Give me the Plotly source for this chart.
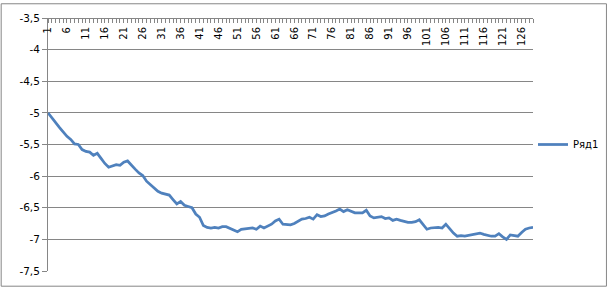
import plotly.graph_objects as go

series_name = "Ряд1"
values = [
    -5.00, -5.08, -5.16, -5.23, -5.30, -5.37, -5.42, -5.49, -5.50, -5.58,
    -5.61, -5.62, -5.67, -5.64, -5.72, -5.80, -5.86, -5.84, -5.82, -5.83,
    -5.78, -5.76, -5.83, -5.89, -5.95, -5.99, -6.08, -6.13, -6.18, -6.24,
    -6.27, -6.28, -6.30, -6.37, -6.44, -6.40, -6.46, -6.48, -6.50, -6.60,
    -6.65, -6.78, -6.81, -6.82, -6.81, -6.82, -6.80, -6.80, -6.83, -6.86,
    -6.88, -6.84, -6.83, -6.82, -6.82, -6.84, -6.79, -6.82, -6.79, -6.76,
    -6.71, -6.68, -6.76, -6.77, -6.77, -6.75, -6.71, -6.68, -6.67, -6.65,
    -6.68, -6.61, -6.64, -6.63, -6.60, -6.58, -6.55, -6.52, -6.56, -6.53,
    -6.55, -6.58, -6.58, -6.58, -6.54, -6.63, -6.66, -6.65, -6.64, -6.67,
    -6.66, -6.70, -6.68, -6.70, -6.72, -6.73, -6.73, -6.72, -6.69, -6.77,
    -6.84, -6.82, -6.81, -6.81, -6.82, -6.76, -6.83, -6.90, -6.95, -6.94,
    -6.95, -6.94, -6.92, -6.91, -6.90, -6.92, -6.94, -6.95, -6.95, -6.91,
    -6.96, -7.00, -6.93, -6.94, -6.95, -6.89, -6.84, -6.82, -6.81,
]
categories = list(range(1, len(values) + 1))
x_tick_vals = list(range(1, len(values) + 1, 5))
x_tick_text = [str(v) for v in x_tick_vals]
y_tick_vals = [-3.5, -4, -4.5, -5, -5.5, -6, -6.5, -7, -7.5]
y_tick_text = ["-3,5", "-4", "-4,5", "-5", "-5,5", "-6", "-6,5", "-7", "-7,5"]

W, H = 616, 289
ML, MR, MT, MB = 48, 76, 15, 16
GRID = "#868686"
FONT = "DejaVu Sans"

fig = go.Figure()
fig.add_trace(go.Scatter(
    x=categories, y=values, mode="lines", name=series_name,
    line=dict(color="#4F81BD", width=2.75),
    showlegend=True,
))

pw = W - ML - MR
ph = H - MT - MB
fig.add_shape(type="rect", xref="paper", yref="paper",
              x0=(0.5 - ML) / pw, x1=(W - 1.5 - ML) / pw,
              y0=-(MB - 0.5) / ph, y1=1 + (MT - 0.5) / ph,
              line=dict(color=GRID, width=1), layer="above")

fig.update_layout(
    width=W, height=H,
    margin=dict(l=ML, r=MR, t=MT, b=MB),
    paper_bgcolor="white", plot_bgcolor="white",
    font=dict(family=FONT, size=10, color="black"),
    showlegend=True,
    legend=dict(x=1.0, xanchor="left", y=0.5, yanchor="middle",
                font=dict(family=FONT, size=10), itemwidth=30,
                bgcolor="rgba(0,0,0,0)", borderwidth=0),
    xaxis=dict(
        range=[1, len(values)], anchor="free", position=1, side="bottom",
        tickmode="array", tickvals=x_tick_vals, ticktext=x_tick_text,
        tickangle=-90, ticks="outside", ticklen=4, tickcolor=GRID,
        minor=dict(dtick=1, tick0=1, ticks="outside", ticklen=4, tickcolor=GRID, showgrid=False),
        showline=True, linecolor=GRID, linewidth=1,
        showgrid=False, zeroline=False,
        tickfont=dict(family=FONT, size=10),
    ),
    yaxis=dict(
        range=[-7.5, -3.5], tickmode="array", tickvals=y_tick_vals, ticktext=y_tick_text,
        ticks="outside", ticklen=5, tickcolor=GRID,
        showline=True, linecolor=GRID, linewidth=1,
        showgrid=True, gridcolor=GRID, gridwidth=1, zeroline=False,
        tickfont=dict(family=FONT, size=10.5),
    ),
)

fig.write_html("out.html")
